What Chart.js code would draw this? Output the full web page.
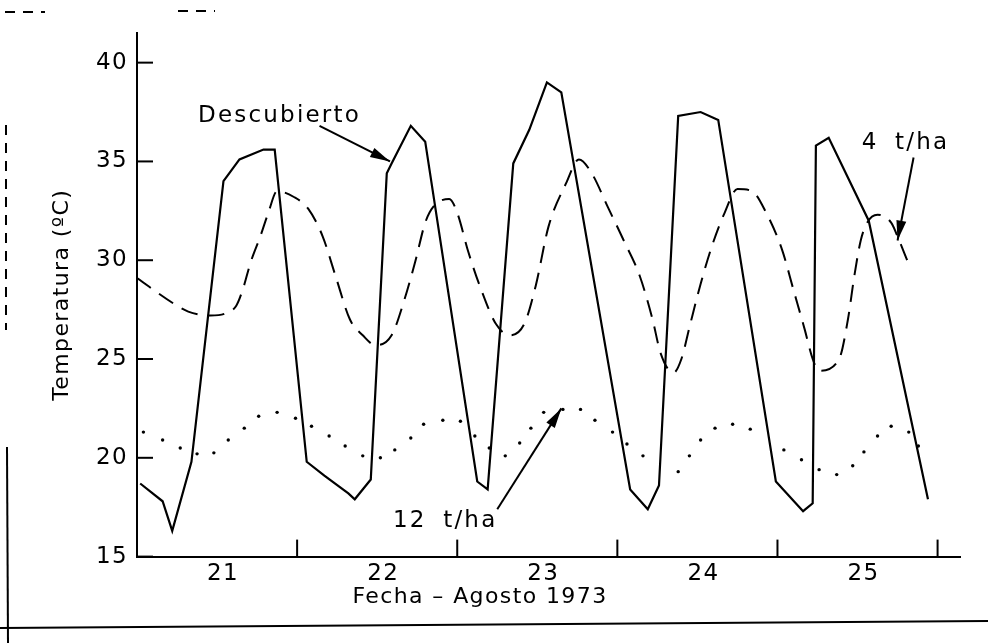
<!DOCTYPE html>
<html lang="es">
<head>
<meta charset="UTF-8">
<title>Temperatura - Agosto 1973</title>
<script src="https://cdn.jsdelivr.net/npm/chart.js"></script>
<style>
  html, body { margin: 0; padding: 0; background: #fff; }
  #wrap { width: 988px; height: 643px; }
</style>
</head>
<body>
<div id="wrap"><canvas id="tempChart" width="988" height="643"></canvas></div>
<script>
// dias (etiquetas) y limites entre dias
const dayLabels = ['21', '22', '23', '24', '25'];
const dayBounds = [22, 23, 24, 25, 26];
const tempTicks = [15, 20, 25, 30, 35, 40];

// Descubierto (linea continua)
const bareX = [21.02, 21.16, 21.22, 21.34, 21.54, 21.64, 21.79, 21.86, 22.06, 22.17, 22.32, 22.36, 22.46,
  22.56, 22.59, 22.71, 22.80, 23.125, 23.19, 23.35, 23.45, 23.56, 23.65, 24.08, 24.19, 24.26,
  24.38, 24.52, 24.63, 24.99, 25.16, 25.22, 25.24, 25.32, 25.57, 25.94];
const bareY = [18.7, 17.8, 16.3, 19.8, 34.0, 35.1, 35.6, 35.6, 19.8, 19.1, 18.2, 17.9, 18.9,
  34.4, 34.9, 36.8, 36.0, 18.8, 18.4, 34.9, 36.6, 39.0, 38.5, 18.4, 17.4, 18.6,
  37.3, 37.5, 37.1, 18.8, 17.3, 17.7, 35.8, 36.2, 32.0, 17.9];

// 4 t/ha (linea de trazos)
const mulch4X = [21.00, 21.23, 21.32, 21.46, 21.55, 21.62, 21.66, 21.71, 21.77, 21.82, 21.875, 21.98, 22.07,
  22.16, 22.24, 22.33, 22.41, 22.49, 22.59, 22.67, 22.74, 22.80, 22.85, 22.95, 23.00, 23.07, 23.15,
  23.24, 23.33, 23.42, 23.49, 23.57, 23.68, 23.76, 23.84, 23.94, 24.04, 24.14, 24.22, 24.27, 24.35,
  24.40, 24.45, 24.52, 24.59, 24.67, 24.75, 24.84, 24.93, 25.03, 25.10, 25.17, 25.22, 25.26, 25.385,
  25.44, 25.48, 25.52, 25.56, 25.625, 25.71, 25.76, 25.81];
const mulch4Y = [29.1, 27.8, 27.4, 27.2, 27.3, 27.7, 28.5, 29.9, 31.2, 32.4, 33.5, 33.2, 32.6,
  31.2, 29.2, 27.0, 26.2, 25.7, 26.2, 28.0, 30.0, 31.9, 32.7, 33.1, 32.4, 30.4, 28.5,
  26.8, 26.2, 26.8, 28.7, 31.7, 33.9, 35.1, 34.4, 32.7, 31.0, 29.2, 27.0, 25.3, 24.3,
  25.0, 26.6, 28.8, 30.7, 32.4, 33.6, 33.5, 32.4, 30.5, 28.5, 26.5, 25.0, 24.4, 25.0,
  27.0, 29.2, 31.0, 31.9, 32.3, 31.9, 31.0, 30.0];

// 12 t/ha (puntos)
const mulch12X = [21.04, 21.16, 21.27, 21.375, 21.48, 21.57, 21.67, 21.76, 21.875, 21.99, 22.09, 22.20, 22.30,
  22.41, 22.52, 22.61, 22.71, 22.79, 22.91, 23.02, 23.11, 23.20, 23.30, 23.39, 23.46, 23.54,
  23.66, 23.77, 23.86, 23.97, 24.06, 24.16, 24.38, 24.45, 24.52, 24.61, 24.72, 24.83,
  25.04, 25.15, 25.26, 25.37, 25.47, 25.54, 25.625, 25.71, 25.82, 25.88];
const mulch12Y = [21.3, 20.9, 20.5, 20.2, 20.25, 20.9, 21.5, 22.1, 22.3, 22.0, 21.6, 21.1, 20.6,
  20.1, 20.0, 20.4, 21.0, 21.7, 21.9, 21.85, 21.1, 20.5, 20.1, 20.75, 21.5, 22.3,
  22.45, 22.45, 21.9, 21.3, 20.7, 20.1, 19.3, 20.1, 20.9, 21.5, 21.7, 21.45,
  20.4, 19.9, 19.4, 19.15, 19.6, 20.3, 21.1, 21.6, 21.3, 20.6];

// rotulos con flecha (en unidades de datos)
const notes = [
  { text: 'Descubierto', x: 21.89, y: 37.3, from: [22.14, 36.8], to: [22.58, 35.0] },
  { text: '4 t/ha', x: 25.80, y: 35.95, from: [25.85, 35.2], to: [25.75, 31.0] },
  { text: '12 t/ha', x: 22.925, y: 16.8, from: [23.25, 17.4], to: [23.65, 22.5] }
];

const toPts = (xs, ys) => xs.map((v, i) => ({ x: v, y: ys[i] }));
const FONT = 'DejaVu Sans';

const sketch = {
  id: 'sketch',
  beforeDraw(chart) {
    // la letra del trazador es ancha
    chart.ctx.letterSpacing = '1.4px';
  },
  afterDraw(chart) {
    const { ctx, chartArea: a } = chart;
    const x = chart.scales.x, y = chart.scales.y;
    const seg = (x1, y1, x2, y2) => { ctx.beginPath(); ctx.moveTo(x1, y1); ctx.lineTo(x2, y2); ctx.stroke(); };
    ctx.save();
    ctx.strokeStyle = '#000';
    ctx.fillStyle = '#000';
    ctx.lineWidth = 2;
    // marcas hacia dentro
    dayBounds.forEach(v => { const px = x.getPixelForValue(v); seg(px, a.bottom, px, a.bottom - 17); });
    tempTicks.forEach(v => { const py = y.getPixelForValue(v); seg(a.left, py, a.left + 16, py); });

    // rotulos y flechas
    ctx.font = '23px "' + FONT + '"';
    ctx.textAlign = 'center';
    ctx.textBaseline = 'middle';
    ctx.letterSpacing = '2.2px';
    ctx.wordSpacing = '7px';
    notes.forEach(n => {
      ctx.fillText(n.text, x.getPixelForValue(n.x), y.getPixelForValue(n.y));
      const x1 = x.getPixelForValue(n.from[0]), y1 = y.getPixelForValue(n.from[1]);
      const x2 = x.getPixelForValue(n.to[0]), y2 = y.getPixelForValue(n.to[1]);
      ctx.lineWidth = 2;
      seg(x1, y1, x2, y2);
      const ang = Math.atan2(y2 - y1, x2 - x1), len = 20, hw = 5;
      ctx.beginPath();
      ctx.moveTo(x2, y2);
      ctx.lineTo(x2 - len * Math.cos(ang) + hw * Math.sin(ang), y2 - len * Math.sin(ang) - hw * Math.cos(ang));
      ctx.lineTo(x2 - len * Math.cos(ang) - hw * Math.sin(ang), y2 - len * Math.sin(ang) + hw * Math.cos(ang));
      ctx.closePath();
      ctx.fill();
    });

    // bordes del papel escaneado
    ctx.lineWidth = 2;
    seg(0, 628, chart.width, 621);
    seg(7, 447, 8, chart.height);
    ctx.setLineDash([10, 8]);
    seg(6, 125, 6, 330);
    seg(5, 12, 45, 12);
    seg(178, 11, 215, 11);
    ctx.restore();
  }
};

new Chart(document.getElementById('tempChart'), {
  type: 'line',
  data: {
    datasets: [
      { label: 'Descubierto', data: toPts(bareX, bareY), borderColor: '#000', borderWidth: 2.2,
        pointRadius: 0, tension: 0 },
      { label: '4 t/ha', data: toPts(mulch4X, mulch4Y), borderColor: '#000', borderWidth: 2,
        borderDash: [17, 10], pointRadius: 0, cubicInterpolationMode: 'monotone' },
      { label: '12 t/ha', data: toPts(mulch12X, mulch12Y), showLine: false, pointRadius: 1.7,
        pointBackgroundColor: '#000', pointBorderWidth: 0 }
    ]
  },
  options: {
    responsive: false,
    animation: false,
    layout: { padding: { top: 33, right: 28, left: 0, bottom: 33 } },
    plugins: {
      legend: { display: false },
      tooltip: { enabled: false },
      title: {
        display: true, position: 'bottom', text: 'Fecha – Agosto 1973', color: '#000',
        font: { family: FONT, size: 22, weight: 'normal' }, padding: { top: 3, bottom: 0 }
      }
    },
    scales: {
      x: {
        type: 'linear', min: 21, max: 26.14,
        afterBuildTicks: s => { s.ticks = dayBounds.map(v => ({ value: v })); },
        afterFit: s => { s.height = 24; },
        grid: { display: false, drawTicks: false },
        border: { display: true, color: '#000', width: 2 },
        ticks: {
          autoSkip: false, maxRotation: 0, padding: 4, labelOffset: -74, color: '#000',
          font: { family: FONT, size: 23 },
          callback: (v, i) => dayLabels[i]
        }
      },
      y: {
        min: 15, max: 41.5,
        afterFit: s => { s.width = 137; },
        grid: { display: false, drawTicks: false },
        border: { display: true, color: '#000', width: 2 },
        ticks: { stepSize: 5, includeBounds: false, padding: 9, color: '#000', font: { family: FONT, size: 23 } },
        title: {
          display: true, text: 'Temperatura (ºC)', color: '#000',
          font: { family: FONT, size: 22 }, padding: { top: 49, bottom: 0 }
        }
      }
    }
  },
  plugins: [sketch]
});
</script>
</body>
</html>
